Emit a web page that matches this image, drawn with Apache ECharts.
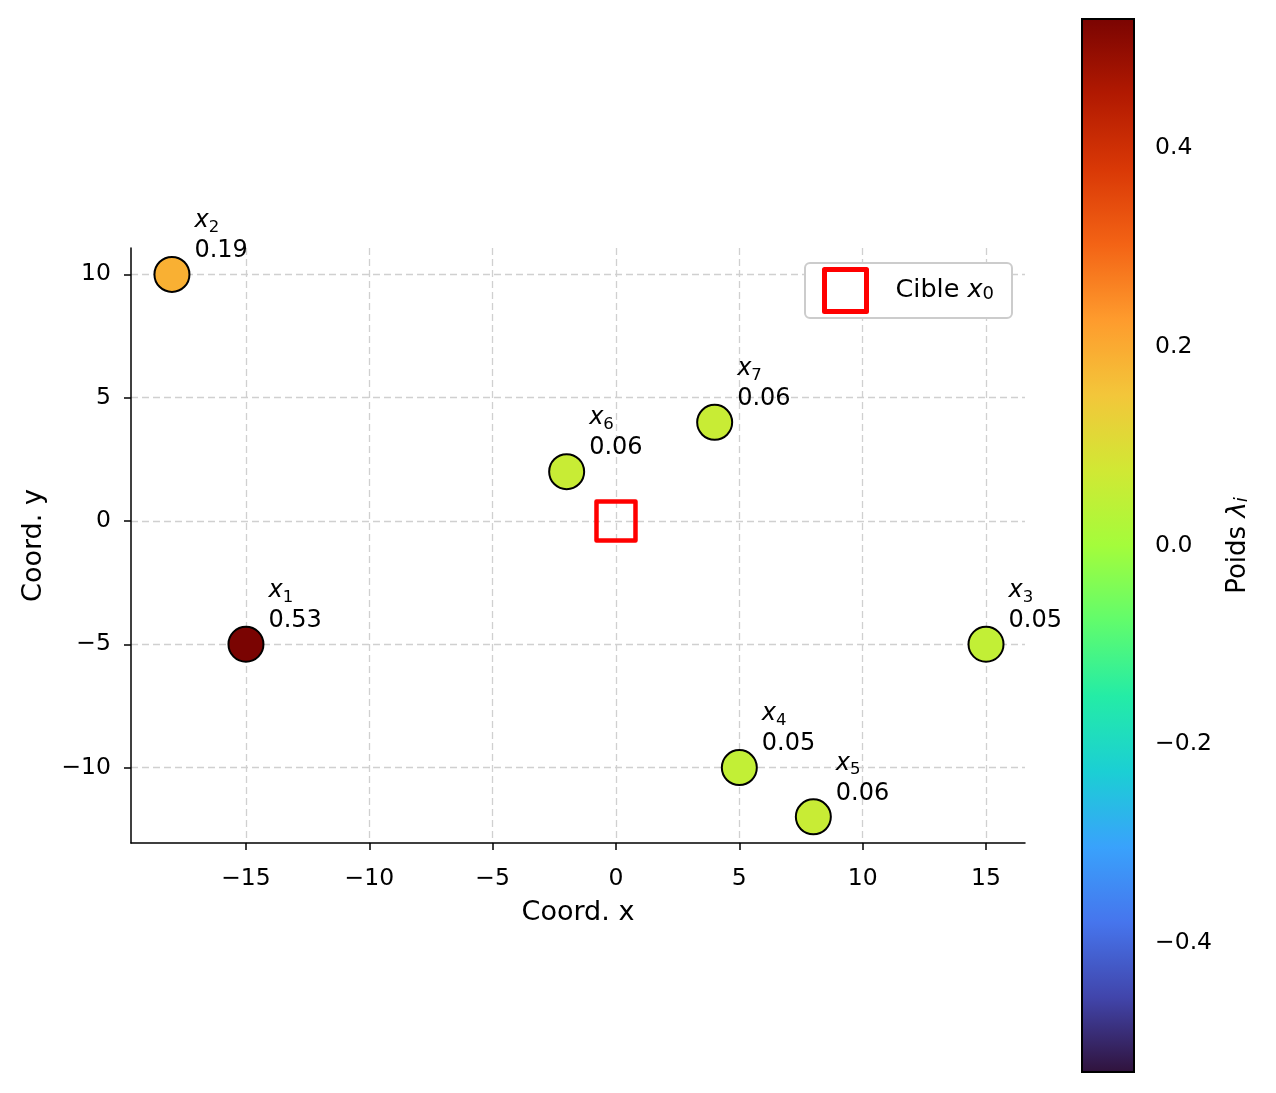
<!DOCTYPE html>
<html><head><meta charset="utf-8">
<script src="https://cdn.jsdelivr.net/npm/echarts@6/dist/echarts.min.js"></script>
<style>html,body{margin:0;padding:0;background:#fff}#c{width:1276px;height:1093px}</style>
</head><body><div id="c"></div>
<script>
// ---- data ----
const pointIndex = ['1','2','3','4','5','6','7'];
const pointX = [-15, -18, 15, 5, 8, -2, 4];
const pointY = [-5, 10, -5, -10, -12, 2, 4];
const weights = [0.53, 0.19, 0.05, 0.05, 0.06, 0.06, 0.06];
const targetX = [0];
const targetY = [0];
const xTicks = [-15, -10, -5, 0, 5, 10, 15];
const yTicks = [-10, -5, 0, 5, 10];
const cbarTicks = [-0.4, -0.2, 0, 0.2, 0.4];
const xRange = [-19.66, 16.58];
const yRange = [-13.06, 11.07];
const cbarRange = [-0.53, 0.53];

// ---- style ----
const TURBO = ['#30123b','#4145ab','#4675ed','#39a2fc','#1bcfd4','#24eca6','#61fc6c','#a4fc3b',
               '#d1e834','#f3c63a','#fe9b2d','#f36315','#d93806','#b11901','#7a0402'];
const FONT = 'DejaVu Sans';
const TICK_FS = 23.5;
const minus = v => v < 0 ? '\u2212' + Math.abs(v) : String(v);

const chart = echarts.init(document.getElementById('c'), null, {renderer: 'canvas'});

const scatterData = pointX.map((x, i) => [x, pointY[i], weights[i], pointIndex[i]]);
const targetData = targetX.map((x, i) => [x, targetY[i]]);

const option = {
  backgroundColor: '#fff',
  animation: false,
  textStyle: {fontFamily: FONT, color: '#000'},
  grid: [
    {left: 131, right: 251, top: 248, bottom: 250, containLabel: false},
    {left: 1082, width: 52, top: 19, bottom: 21, containLabel: false}
  ],
  xAxis: [{
    type: 'value', gridIndex: 0, min: xRange[0], max: xRange[1],
    name: 'Coord. x', nameLocation: 'middle', nameGap: 56,
    nameTextStyle: {fontSize: 27, fontFamily: FONT, color: '#000'},
    axisLine: {onZero: false, lineStyle: {color: '#000', width: 1.5}},
    axisTick: {show: true, length: 7, lineStyle: {color: '#000', width: 1.5}, customValues: xTicks},
    axisLabel: {customValues: xTicks, fontSize: TICK_FS, fontFamily: FONT, color: '#000', margin: 24, formatter: v => minus(v)},
    splitLine: {show: true, lineStyle: {color: '#d0d0d0', type: [7, 4], width: 1.3}}
  }, {
    type: 'value', gridIndex: 1, min: 0, max: 1, show: false
  }],
  yAxis: [{
    type: 'value', gridIndex: 0, min: yRange[0], max: yRange[1],
    name: 'Coord. y', nameLocation: 'middle', nameGap: 84, nameRotate: 90,
    nameTextStyle: {fontSize: 27, fontFamily: FONT, color: '#000'},
    axisLine: {onZero: false, lineStyle: {color: '#000', width: 1.5}},
    axisTick: {show: true, length: 7, lineStyle: {color: '#000', width: 1.5}, customValues: yTicks},
    axisLabel: {customValues: yTicks, fontSize: TICK_FS, fontFamily: FONT, color: '#000', margin: 20, formatter: v => minus(v)},
    splitLine: {show: true, lineStyle: {color: '#d0d0d0', type: [7, 4], width: 1.3}}
  }, {
    type: 'value', gridIndex: 1, position: 'right', min: cbarRange[0], max: cbarRange[1],
    name: 'Poids {l|λ}{s|i}', nameLocation: 'middle', nameGap: 91, nameRotate: 90,
    nameTextStyle: {fontSize: 26, fontFamily: FONT, color: '#000',
      rich: {l: {fontSize: 26, fontStyle: 'italic', fontFamily: FONT}, s: {fontSize: 18, fontStyle: 'italic', fontFamily: FONT, verticalAlign: 'bottom', lineHeight: 22}}},
    axisLine: {show: false},
    axisTick: {show: true, length: 7, lineStyle: {color: '#000', width: 1.5}, customValues: cbarTicks},
    axisLabel: {customValues: cbarTicks, fontSize: TICK_FS, fontFamily: FONT, color: '#000', margin: 21,
      formatter: v => (v < 0 ? '\u2212' : '') + Math.abs(v).toFixed(1)},
    splitLine: {show: false}
  }],
  visualMap: {
    show: false, type: 'continuous', seriesIndex: 0, dimension: 2,
    min: cbarRange[0], max: cbarRange[1], inRange: {color: TURBO}
  },
  legend: {
    data: [{name: 'Cible', icon: 'rect'}],
    left: 805, top: 263, orient: 'vertical',
    padding: [4, 18, 4, 17], itemWidth: 42, itemHeight: 42,
    backgroundColor: '#fff', borderColor: '#cccccc', borderWidth: 2, borderRadius: 5,
    selectedMode: false,
    itemStyle: {color: 'transparent', borderColor: '#ff0000', borderWidth: 5, opacity: 1},
    formatter: () => '{sp|}Cible {i|x}{s|0}',
    textStyle: {fontSize: 25.5, fontFamily: FONT, color: '#000',
      rich: {sp: {width: 24}, i: {fontSize: 25.5, fontStyle: 'italic', fontFamily: FONT},
             s: {fontSize: 18, fontFamily: FONT, verticalAlign: 'bottom', lineHeight: 24}}}
  },
  series: [{
    type: 'scatter', xAxisIndex: 0, yAxisIndex: 0, name: 'points',
    data: scatterData, symbol: 'circle', symbolSize: 35,
    itemStyle: {borderColor: '#000', borderWidth: 2, opacity: 1},
    label: {
      show: true, position: [41, 10], align: 'left', verticalAlign: 'bottom',
      formatter: p => '{x|x}{s|' + p.value[3] + '}\n{v|' + p.value[2].toFixed(2) + '}',
      rich: {
        x: {fontSize: 24, fontStyle: 'italic', fontFamily: FONT, color: '#000', lineHeight: 30},
        s: {fontSize: 16.5, fontFamily: FONT, color: '#000', verticalAlign: 'bottom', lineHeight: 21},
        v: {fontSize: 24, fontFamily: FONT, color: '#000', lineHeight: 30}
      }
    },
    emphasis: {disabled: true}, z: 3
  }, {
    type: 'scatter', xAxisIndex: 0, yAxisIndex: 0, name: 'Cible',
    data: targetData, symbol: 'rect', symbolSize: 39,
    itemStyle: {color: 'transparent', borderColor: '#ff0000', borderWidth: 4.5, opacity: 1, borderJoin: 'round'},
    emphasis: {disabled: true}, z: 4
  }, {
    type: 'custom', xAxisIndex: 1, yAxisIndex: 1, name: 'colorbar', silent: true,
    data: [[0, cbarRange[0], 1, cbarRange[1]]],
    renderItem: (params, api) => {
      const p1 = api.coord([api.value(0), api.value(3)]);
      const p2 = api.coord([api.value(2), api.value(1)]);
      return {
        type: 'rect',
        shape: {x: p1[0], y: p1[1], width: p2[0] - p1[0], height: p2[1] - p1[1]},
        style: {
          fill: new echarts.graphic.LinearGradient(0, 1, 0, 0,
            TURBO.map((c, i) => ({offset: i / (TURBO.length - 1), color: c}))),
          stroke: '#000', lineWidth: 2
        }
      };
    }
  }]
};
chart.setOption(option);
</script>
</body></html>
